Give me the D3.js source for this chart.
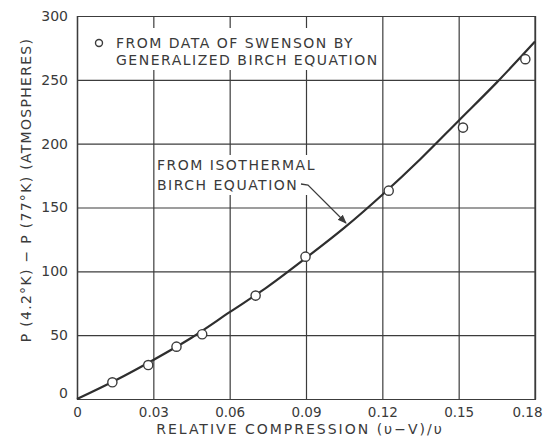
<!DOCTYPE html>
<html>
<head>
<meta charset="utf-8">
<script src="https://cdn.jsdelivr.net/npm/d3@7"></script>
<style>
  body { margin: 0; background: #fff; }
  text { font-family: "DejaVu Sans", sans-serif; fill: #3a3a3a; }
</style>
</head>
<body>
<div id="chart"></div>
<script>
// points: data of Swenson, generalized Birch equation
var ptX = [0.0139, 0.028, 0.0391, 0.0492, 0.0702, 0.0898, 0.1225, 0.1517, 0.1762];
var ptY = [13.1, 26.6, 41, 50.7, 81, 111.5, 163.2, 212.6, 266.2];

// curve: isothermal Birch equation
var curveX = [0, 0.015, 0.03, 0.045, 0.06, 0.075, 0.09, 0.105, 0.12, 0.135, 0.15, 0.165, 0.18];
var curveY = [0, 14.5, 30.6, 48, 68, 88, 110.5, 134, 160, 188, 218, 248, 280];

var xTicks = [0, 0.03, 0.06, 0.09, 0.12, 0.15, 0.18];
var xTickLabels = ["0", "0.03", "0.06", "0.09", "0.12", "0.15", "0.18"];
var yTicks = [0, 50, 100, 150, 200, 250, 300];

var W = 547, H = 438;
var ink = "#3c3c3c";

var svg = d3.select("#chart").append("svg")
    .attr("width", W).attr("height", H);

var xScale = d3.scaleLinear().domain([0, 0.18]).range([77, 535]);
var yScale = d3.scaleLinear().domain([0, 300]).range([399, 16]);

// grid through the axes, full-length ticks
var xAxis = d3.axisBottom(xScale)
    .tickValues(xTicks)
    .tickSize(-(399 - 16))
    .tickFormat(function(d, i) { return xTickLabels[i]; })
    .tickPadding(8);
var gx = svg.append("g")
    .attr("transform", "translate(0,399)")
    .call(xAxis);
gx.select(".domain").attr("stroke", ink).attr("stroke-width", 1.2);
gx.selectAll(".tick line").attr("stroke", ink).attr("stroke-width", 1.2);
gx.selectAll(".tick text")
    .attr("fill", "#3a3a3a")
    .style("font-family", "DejaVu Sans")
    .style("font-size", "13.5px")
    .attr("dx", function(d, i) { return i == 6 ? -8 : 0; });

var yAxis = d3.axisLeft(yScale)
    .tickValues(yTicks)
    .tickSize(-(535 - 77))
    .tickPadding(9);
var gy = svg.append("g")
    .attr("transform", "translate(77,0)")
    .call(yAxis);
gy.select(".domain").attr("stroke", ink).attr("stroke-width", 1.2);
gy.selectAll(".tick line").attr("stroke", ink).attr("stroke-width", 1.2);
gy.selectAll(".tick text")
    .attr("fill", "#3a3a3a")
    .style("font-family", "DejaVu Sans")
    .style("font-size", "14px")
    .attr("dy", function(d) { return d == 0 ? "-0.1em" : "0.32em"; });

// right border
svg.append("path")
    .attr("d", "M" + xScale(0.18) + "," + yScale(0) + "V" + yScale(300))
    .attr("stroke", ink).attr("stroke-width", 1.2);

// axis titles
svg.append("text")
    .attr("x", 300).attr("y", 434)
    .style("text-anchor", "middle")
    .style("font-size", "14px")
    .style("letter-spacing", "2px")
    .text("RELATIVE COMPRESSION (υ−V)/υ");

svg.append("text")
    .attr("transform", "translate(31,190) rotate(-90)")
    .style("text-anchor", "middle")
    .style("font-size", "14px")
    .style("letter-spacing", "1.3px")
    .text("P (4.2°K) − P (77°K) (ATMOSPHERES)");

// legend block (white background breaks the grid)
svg.append("rect")
    .attr("x", 90).attr("y", 28).attr("width", 289).attr("height", 42)
    .attr("fill", "#fff");
svg.append("circle")
    .attr("cx", 99).attr("cy", 43).attr("r", 3.5)
    .attr("fill", "#fff").attr("stroke", ink).attr("stroke-width", 1.4);
svg.append("text").attr("x", 116).attr("y", 48)
    .style("font-size", "14px").style("letter-spacing", "1.5px")
    .text("FROM DATA OF SWENSON BY");
svg.append("text").attr("x", 116).attr("y", 65)
    .style("font-size", "14px").style("letter-spacing", "1.5px")
    .text("GENERALIZED BIRCH EQUATION");

// curve label
svg.append("rect")
    .attr("x", 156).attr("y", 155).attr("width", 160).attr("height", 40)
    .attr("fill", "#fff");
svg.append("text").attr("x", 157).attr("y", 170)
    .style("font-size", "14px").style("letter-spacing", "1.5px")
    .text("FROM ISOTHERMAL");
svg.append("text").attr("x", 157).attr("y", 190)
    .style("font-size", "14px").style("letter-spacing", "1.5px")
    .text("BIRCH EQUATION");

// leader with arrow
svg.append("defs").append("marker")
    .attr("id", "arr").attr("viewBox", "0 0 10 10")
    .attr("refX", 9).attr("refY", 5)
    .attr("markerWidth", 7).attr("markerHeight", 7)
    .attr("orient", "auto")
    .append("path").attr("d", "M0,1 L10,5 L0,9 Z").attr("fill", ink);
svg.append("path")
    .attr("d", "M301,184 L308,185 L346,223")
    .attr("fill", "none").attr("stroke", ink).attr("stroke-width", 1.3)
    .attr("marker-end", "url(#arr)");

// curve
var curveGen = d3.line()
    .x(function(d, i) { return xScale(curveX[i]); })
    .y(function(d) { return yScale(d); })
    .curve(d3.curveMonotoneX);
svg.append("path")
    .datum(curveY)
    .attr("d", curveGen)
    .attr("fill", "none").attr("stroke", "#2e2e2e").attr("stroke-width", 2.2);

// points
svg.selectAll("circle.pt").data(ptY).join("circle")
    .attr("class", "pt")
    .attr("cx", function(d, i) { return xScale(ptX[i]); })
    .attr("cy", function(d) { return yScale(d); })
    .attr("r", 4.6)
    .attr("fill", "#fff").attr("stroke", ink).attr("stroke-width", 1.4);
</script>
</body>
</html>
